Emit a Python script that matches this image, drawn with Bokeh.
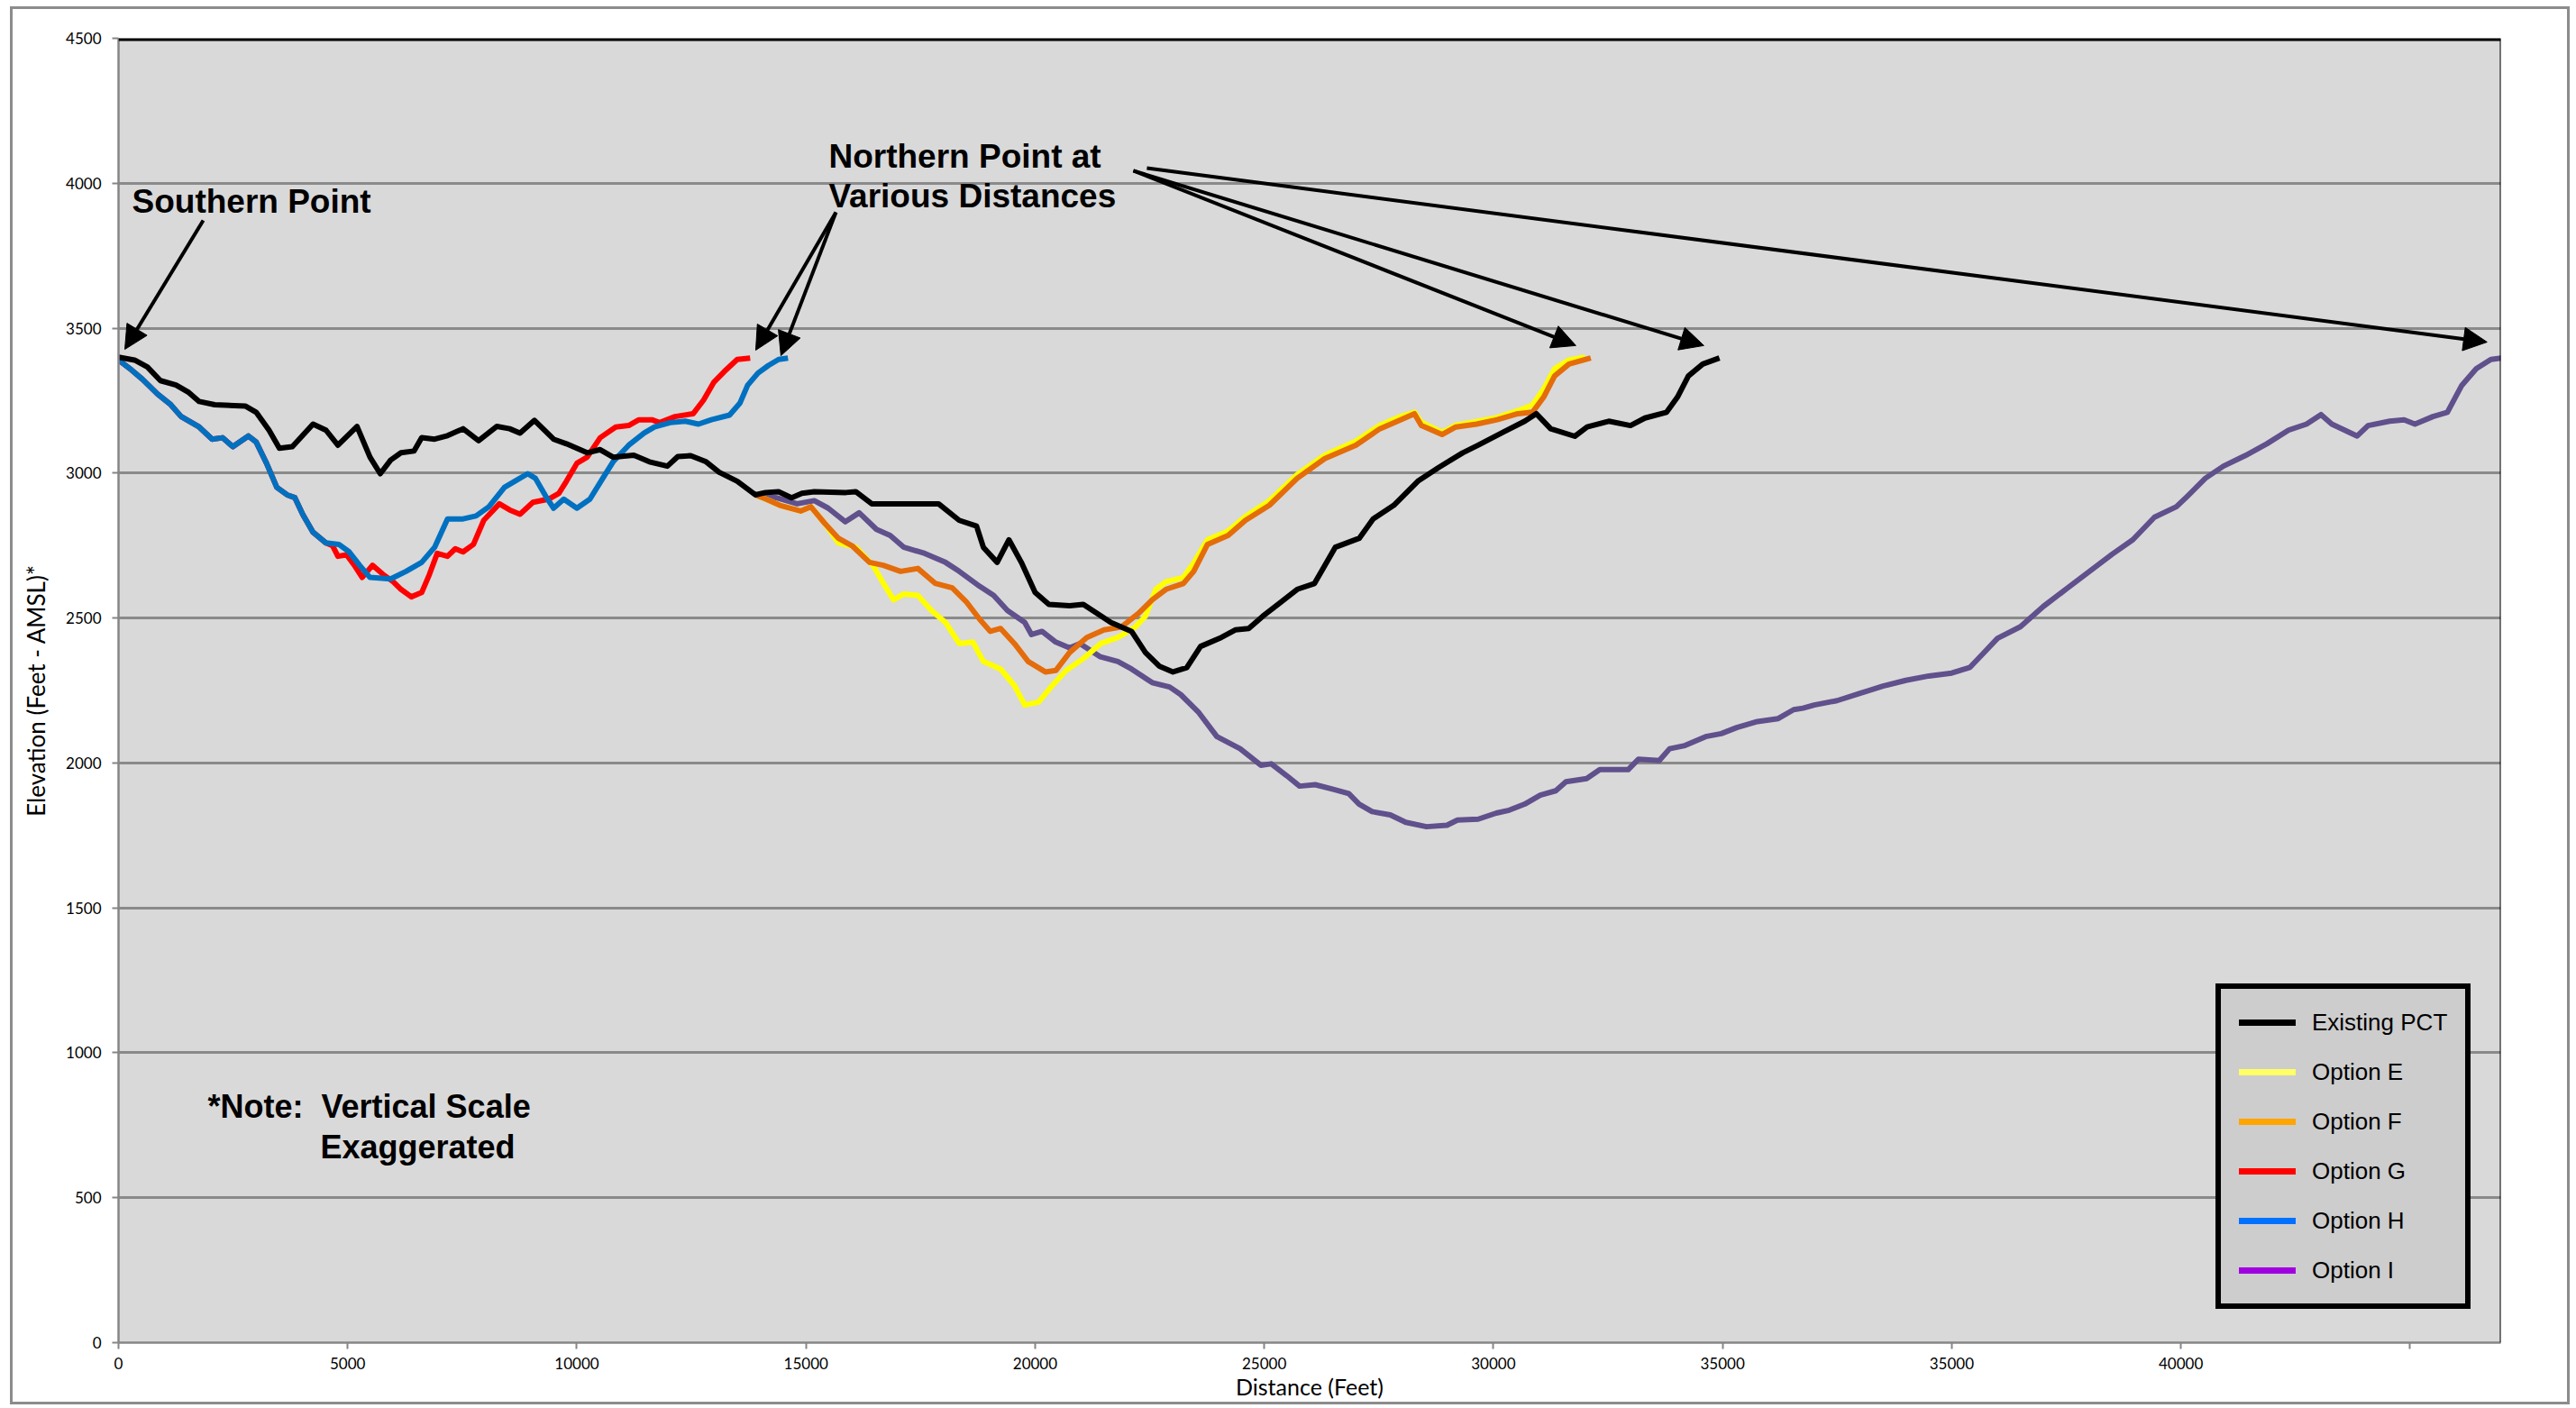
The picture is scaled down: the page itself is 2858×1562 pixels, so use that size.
from bokeh.plotting import figure
from bokeh.models import (Range1d, Span, Label, Arrow, NormalHead, Legend, LegendItem,
                          FixedTicker)
from bokeh.embed import file_html
from bokeh.resources import INLINE

# ---------------- data (distance in feet, elevation in feet AMSL) ----------------
series_names = ["Existing PCT", "Option E", "Option F", "Option G", "Option H", "Option I"]

pct_x = [0, 350, 630, 914, 1253, 1534, 1760, 2100, 2773, 3003, 3284, 3510, 3793, 4244, 4527,
         4787, 5204, 5487, 5711, 5938, 6163, 6446, 6615, 6897, 7178, 7518, 7857, 8252, 8535,
         8760, 9076, 9493, 9774, 10226, 10509, 10791, 11243, 11583, 11977, 12203, 12484, 12822,
         13105, 13500, 13895, 14120, 14403, 14686, 14912, 15182, 15870, 16087, 16435, 17090,
         17893, 18344, 18722, 18871, 19172, 19428, 19699, 20000, 20301, 20752, 21052, 21353,
         21652, 22104, 22407, 22708, 23009, 23310, 23610, 24063, 24366, 24661, 24966, 25341,
         25719, 26096, 26549, 27072, 27375, 27827, 28352, 28802, 29330, 29676, 30234, 30684,
         30934, 31249, 31776, 32045, 32517, 32991, 33306, 33779, 34016, 34254, 34568, 34932]
pct_y = [3400, 3390, 3366, 3319, 3304, 3278, 3247, 3236, 3231, 3210, 3148, 3086, 3091, 3169, 3148,
         3096, 3161, 3055, 2998, 3045, 3070, 3076, 3122, 3117, 3129, 3153, 3112, 3161, 3153,
         3138, 3182, 3117, 3101, 3070, 3081, 3055, 3062, 3039, 3024, 3057, 3060, 3039,
         3003, 2972, 2925, 2933, 2936, 2915, 2930, 2936, 2933, 2936, 2894, 2894,
         2894, 2837, 2817, 2744, 2692, 2770, 2692, 2588, 2547, 2542, 2547, 2516,
         2485, 2454, 2381, 2334, 2314, 2329, 2402, 2433, 2459, 2464, 2506, 2552,
         2599, 2619, 2744, 2775, 2842, 2889, 2972, 3019, 3070, 3097, 3143, 3179,
         3205, 3153, 3127, 3159, 3179, 3164, 3190, 3210, 3262, 3335, 3376, 3397]

opt_e_x = [13895, 14130, 14430, 14883, 15107, 15408, 15709, 16087, 16461, 16688, 16912, 17139,
           17441, 17738, 18043, 18344, 18643, 18871, 19247, 19548, 19774, 20075, 20374, 20677,
           21052, 21430, 21806, 22183, 22407, 22633, 22857, 23235, 23461, 23762, 24212, 24590,
           25113, 25719, 26320, 26997, 27524, 27976, 28277, 28427, 28879, 29180, 29632, 30083,
           30534, 30855, 31097, 31335, 31650, 32000]
opt_e_y = [2925, 2910, 2889, 2869, 2884, 2827, 2759, 2744, 2682, 2620, 2563, 2583,
           2578, 2526, 2485, 2412, 2417, 2350, 2324, 2267, 2200, 2210, 2267, 2319,
           2360, 2412, 2433, 2469, 2506, 2599, 2625, 2640, 2690, 2770, 2800, 2850,
           2905, 2995, 3062, 3110, 3165, 3195, 3210, 3175, 3140, 3165, 3178, 3192,
           3215, 3235, 3290, 3360, 3390, 3400]

opt_f_x = [13895, 14130, 14430, 14883, 15107, 15408, 15709, 16008, 16387, 16688, 17064, 17441,
           17817, 18191, 18493, 18794, 19020, 19247, 19548, 19849, 20224, 20452, 20752, 21128,
           21504, 21880, 22257, 22556, 22857, 23235, 23461, 23762, 24212, 24590, 25113, 25719,
           26320, 26997, 27524, 27976, 28277, 28427, 28879, 29180, 29632, 30083, 30534, 30855,
           31097, 31335, 31650, 32124]
opt_f_y = [2925, 2910, 2889, 2869, 2884, 2827, 2775, 2749, 2692, 2682, 2661, 2671,
           2620, 2604, 2557, 2495, 2454, 2464, 2412, 2350, 2314, 2319, 2381, 2433,
           2459, 2469, 2516, 2563, 2599, 2619, 2661, 2754, 2785, 2837, 2889, 2982,
           3050, 3096, 3153, 3184, 3205, 3164, 3133, 3159, 3169, 3184, 3205, 3210,
           3262, 3335, 3376, 3397]

opt_g_x = [0, 290, 519, 857, 1140, 1367, 1760, 2043, 2269, 2495, 2832, 3003, 3229, 3453, 3678,
           3849, 4018, 4244, 4527, 4673, 4787, 4975, 5146, 5317, 5541, 5768, 5994, 6163, 6389,
           6615, 6785, 6954, 7178, 7349, 7518, 7745, 7969, 8309, 8535, 8760, 9042, 9381, 9607,
           9774, 10002, 10226, 10509, 10848, 11131, 11355, 11638, 11807, 12145, 12540, 12767,
           12993, 13215, 13500, 13783]
opt_g_y = [3390, 3355, 3324, 3272, 3236, 3195, 3159, 3117, 3122, 3091, 3128, 3107, 3034, 2951, 2925,
           2915, 2858, 2796, 2759, 2749, 2713, 2718, 2682, 2640, 2682, 2651, 2625, 2599, 2573,
           2588, 2651, 2723, 2713, 2739, 2728, 2754, 2837, 2894, 2873, 2858, 2899, 2910, 2930,
           2972, 3034, 3055, 3122, 3159, 3164, 3184, 3184, 3174, 3195, 3205, 3252,
           3314, 3350, 3392, 3397]

opt_h_x = [0, 290, 519, 857, 1140, 1367, 1760, 2043, 2269, 2495, 2832, 3003, 3229, 3453, 3678,
           3849, 4018, 4244, 4527, 4808, 5034, 5261, 5487, 5938, 6273, 6615, 6897, 7178, 7518,
           7800, 8083, 8421, 8647, 8929, 9097, 9322, 9493, 9715, 10002, 10285, 10566, 10791,
           11131, 11469, 11695, 12034, 12370, 12655, 12936, 13332, 13558, 13727, 13953, 14179,
           14403, 14608]
opt_h_y = [3390, 3355, 3324, 3272, 3236, 3195, 3159, 3117, 3122, 3091, 3128, 3107, 3034, 2951, 2925,
           2915, 2858, 2796, 2759, 2754, 2728, 2682, 2640, 2635, 2661, 2692, 2744, 2842, 2842,
           2852, 2884, 2951, 2972, 2998, 2982, 2920, 2879, 2910, 2879, 2910, 2982, 3039,
           3096, 3138, 3159, 3174, 3179, 3169, 3184, 3200, 3241, 3303, 3345, 3371,
           3392, 3397]

opt_i_x = [13895, 14356, 14808, 15182, 15485, 15860, 16161, 16538, 16837, 17139, 17591, 18043,
           18344, 18794, 19095, 19396, 19774, 19921, 20150, 20451, 20752, 20978, 21426, 21806,
           22104, 22556, 22934, 23176, 23571, 23966, 24474, 24926, 25152, 25490, 25771, 26112,
           26505, 26844, 27070, 27353, 27749, 28087, 28540, 28987, 29216, 29668, 30063, 30344,
           30683, 31022, 31361, 31583, 32035, 32321, 32940, 33166, 33619, 33845, 34180, 34632,
           34971, 35311, 35762, 36214, 36552, 36755, 37000, 37500, 38000, 38500, 39000, 39500,
           40000, 40400, 40700, 41000, 41500, 42000, 42500, 43000, 43500, 43953, 44425, 44903,
           45141, 45534, 45929, 46401, 46875, 47348, 47742, 48058, 48294, 48847, 49085, 49557,
           49872, 50108, 50501, 50816, 51131, 51446, 51766, 51996]
opt_i_y = [2925, 2915, 2894, 2905, 2879, 2832, 2863, 2806, 2785, 2744, 2723, 2692,
           2661, 2609, 2578, 2526, 2485, 2443, 2454, 2417, 2397, 2412, 2366, 2350,
           2324, 2277, 2262, 2236, 2174, 2091, 2049, 1992, 1997, 1956, 1920, 1925,
           1909, 1894, 1858, 1832, 1821, 1795, 1780, 1785, 1803, 1806, 1827, 1837,
           1858, 1889, 1904, 1935, 1946, 1977, 1977, 2013, 2008, 2049, 2060, 2091,
           2101, 2122, 2143, 2153, 2184, 2189, 2200, 2215, 2240, 2265, 2285, 2300,
           2310, 2330, 2380, 2430, 2470, 2540, 2600, 2660, 2720, 2770, 2848, 2884,
           2920, 2982, 3024, 3060, 3101, 3148, 3169, 3202, 3169, 3128, 3164, 3179,
           3184, 3169, 3195, 3210, 3303, 3360, 3392, 3397]

y_ticks = [0, 500, 1000, 1500, 2000, 2500, 3000, 3500, 4000, 4500]
x_tick_values = [0, 5000, 10000, 15000, 20000, 25000, 30000, 35000, 40000, 45000, 50000]
x_tick_labels = ["0", "5000", "10000", "15000", "20000", "25000", "30000", "35000", "35000", "40000", ""]

# ---------------- styling ----------------
X_MAX = 51980
Y_MAX = 4500
line_colors = {"Existing PCT": "#000000", "Option E": "#ffff00", "Option F": "#e46c0a",
               "Option G": "#ff0000", "Option H": "#0070c0", "Option I": "#60508c"}
legend_colors = ["#000000", "#ffff66", "#ffa500", "#ff0000", "#0070ff", "#a000e0"]
AX_FONT = "Lato"
ANN_FONT = "Liberation Sans"

p = figure(frame_width=2643, frame_height=1447, min_border_left=117, min_border_right=74,
           min_border_top=32, min_border_bottom=65, output_backend="svg", toolbar_location=None,
           x_range=Range1d(0, X_MAX), y_range=Range1d(0, Y_MAX))
p.styles = {"border": "3px solid #8c8c8c", "margin-left": "11px", "margin-top": "7px"}
p.background_fill_color = "#d9d9d9"
p.border_fill_color = "white"
p.outline_line_color = None

# axes
for ax in (p.xaxis[0], p.yaxis[0]):
    ax.axis_line_color = "#868686"
    ax.axis_line_width = 2.5
    ax.major_tick_line_color = "#868686"
    ax.major_tick_line_width = 2
    ax.major_tick_out = 7
    ax.major_tick_in = 0
    ax.minor_tick_line_color = None
    ax.major_label_text_font = AX_FONT
    ax.major_label_text_font_size = "17px"
    ax.major_label_text_color = "black"
    ax.axis_label_text_font = AX_FONT
    ax.axis_label_text_font_style = "normal"
    ax.axis_label_text_color = "black"
p.xaxis.ticker = FixedTicker(ticks=x_tick_values)
p.xaxis.major_label_overrides = {v: l for v, l in zip(x_tick_values, x_tick_labels)}
p.xaxis.major_label_standoff = 9
p.xaxis.axis_label = "Distance (Feet)"
p.xaxis.axis_label_text_font_size = "25px"
p.xaxis.axis_label_standoff = 1
p.yaxis.ticker = FixedTicker(ticks=y_ticks)
p.yaxis.major_label_standoff = 12
p.yaxis.axis_label = "Elevation (Feet - AMSL)*"
p.yaxis.axis_label_text_font_size = "26px"
p.yaxis.axis_label_standoff = 14

p.xgrid.visible = False
p.ygrid.ticker = FixedTicker(ticks=y_ticks)
p.ygrid.grid_line_color = "#8a8a8a"
p.ygrid.grid_line_width = 3

# frame edges (top black bar and right black edge)
p.add_layout(Span(location=Y_MAX, dimension="width", line_color="black", line_width=6))
p.add_layout(Span(location=X_MAX, dimension="height", line_color="black", line_width=2))

# data lines (drawing order: I, E, F, G, H, PCT on top)
series = {
    "Existing PCT": (pct_x, pct_y),
    "Option E": (opt_e_x, opt_e_y),
    "Option F": (opt_f_x, opt_f_y),
    "Option G": (opt_g_x, opt_g_y),
    "Option H": (opt_h_x, opt_h_y),
    "Option I": (opt_i_x, opt_i_y),
}
for name in ["Option I", "Option E", "Option F", "Option G", "Option H", "Existing PCT"]:
    xs, ys = series[name]
    p.line(xs, ys, line_color=line_colors[name], line_width=6, line_join="round")

# legend (its own swatch colours, as in the reference); swatch renderers sit off-frame
items = []
for name, c in zip(series_names, legend_colors):
    r = p.line(x=[-3000, -2000], y=[-500, -500], line_color=c, line_width=7, line_cap="round")
    items.append(LegendItem(label=name, renderers=[r]))
legend = Legend(items=items, location=(2327, 37), orientation="vertical",
                label_text_font=ANN_FONT, label_text_font_size="26px", label_text_color="black",
                glyph_width=63, glyph_height=34, label_height=34, label_width=150, spacing=21,
                padding=20, label_standoff=18, margin=0,
                border_line_color="black", border_line_width=6, border_line_alpha=1,
                background_fill_color="#cdcdcd", background_fill_alpha=1)
p.add_layout(legend)

# annotation texts
def add_label(x, y, text, size, bold=True, **kw):
    p.add_layout(Label(x=x, y=y, text=text, text_font=ANN_FONT, text_font_size=size,
                       text_font_style="bold" if bold else "normal", text_color="black",
                       text_baseline="alphabetic", text_align="left", **kw))

add_label(295, 3937, "Southern Point", "37px")
add_label(15497, 4093, "Northern Point at", "37px")
add_label(15497, 3956, "Various Distances", "37px")
add_label(1947, 815, "*Note:\u00a0 Vertical Scale", "36px")
add_label(4405, 675, "Exaggerated", "36px")

# arrows
arrows = [
    (1849, 3872, 138, 3427),
    (15654, 3900, 13904, 3424),
    (15654, 3900, 14454, 3405),
    (22144, 4043, 31799, 3440),
    (22144, 4043, 34592, 3440),
    (22439, 4052, 51681, 3452),
]
for xs0, ys0, xe, ye in arrows:
    p.add_layout(Arrow(end=NormalHead(size=26, fill_color="black", line_color="black"),
                       x_start=xs0, y_start=ys0, x_end=xe, y_end=ye,
                       line_color="black", line_width=4))

open("out.html", "w").write(file_html(p, INLINE))
